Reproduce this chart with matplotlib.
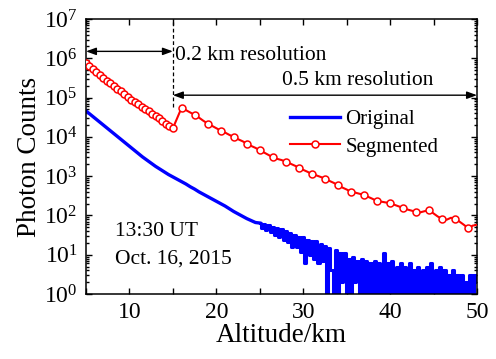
import numpy as np
import matplotlib
matplotlib.use("Agg")
import matplotlib.pyplot as plt
from matplotlib.ticker import MultipleLocator, LogLocator, NullFormatter

plt.rcParams['font.family'] = ['Liberation Serif', 'DejaVu Serif']
plt.rcParams['mathtext.fontset'] = 'custom'
plt.rcParams['mathtext.rm'] = 'Liberation Serif'

# Segmented profile, 0.2 km bins from 5 to 15 km (log10 counts)
seg_fine_log = [5.88, 5.84, 5.80, 5.76, 5.72, 5.69, 5.66,
                5.62, 5.58, 5.55, 5.51, 5.47, 5.43, 5.40, 5.36,
                5.33, 5.29, 5.26, 5.23, 5.19, 5.16, 5.12, 5.09, 5.05,
                5.02, 4.99, 4.95, 4.92, 4.89, 4.86,
                4.83, 4.80, 4.77, 4.74, 4.71, 4.68, 4.65, 4.62, 4.59, 4.56,
                4.53, 4.50, 4.47, 4.44, 4.41, 4.38, 4.34, 4.31, 4.28, 4.25, 4.22]

# Segmented profile, 0.5 km bins from 16 to 50 km (log10 counts)
seg_coarse_log = [4.74, 4.68, 4.62, 4.56, 4.49, 4.41, 4.34, 4.28, 4.22, 4.16,
                  4.11, 4.05, 4.00, 3.94, 3.89, 3.83, 3.77, 3.72, 3.66, 3.60,
                  3.54, 3.48, 3.44, 3.41, 3.37, 3.32, 3.27, 3.22, 3.16, 3.11,
                  3.05, 3.02, 2.98, 2.94, 2.88, 2.83, 2.77, 2.71, 2.66, 2.60,
                  2.58, 2.55, 2.53, 2.47, 2.42, 2.36, 2.35, 2.33, 2.32, 2.27,
                  2.23, 2.19, 2.15, 2.12, 2.09, 2.08, 2.11, 2.13, 2.05, 1.97,
                  1.92, 1.89, 1.94, 1.92, 1.84, 1.76, 1.67, 1.74, 1.76]

# Original profile, smooth part 5 - 24.5 km every 0.5 km (log10 counts)
orig_smooth_log = [4.66, 4.57, 4.48, 4.39, 4.30, 4.21, 4.12, 4.03, 3.94, 3.85,
                   3.76, 3.67, 3.58, 3.49, 3.41, 3.33, 3.25, 3.18, 3.11, 3.04,
                   2.98, 2.92, 2.86, 2.80, 2.73, 2.67, 2.60, 2.54, 2.48, 2.42,
                   2.36, 2.30, 2.24, 2.17, 2.10, 2.04, 1.98, 1.92, 1.87, 1.82]

# Original profile, noisy part 25 - 50 km every 0.25 km (counts)
orig_tail = [64, 48, 60, 42, 56, 38, 52, 32, 48, 28,
             44, 24, 40, 21, 36, 16, 32, 16, 29, 12,
             28, 6, 24, 10, 22, 8, 23, 6, 19, 7,
             17, 0, 15, 4, 0, 13, 0, 11, 2, 11,
             0, 8, 0, 9, 2, 7, 0, 8, 0, 7,
             1, 6, 0, 7, 0, 6, 0, 11, 0, 6,
             0, 7, 0, 5, 1, 6, 0, 5, 0, 6,
             0, 4, 0, 5, 0, 4, 0, 5, 0, 6,
             0, 4, 0, 5, 0, 4, 0, 3, 0, 4,
             0, 3, 0, 3, 0, 2, 0, 3, 0, 3, 2]

alt_fine = np.linspace(5, 15, len(seg_fine_log))
alt_coarse = np.linspace(16, 50, len(seg_coarse_log))
alt_smooth = np.linspace(5, 24.5, len(orig_smooth_log))
alt_tail = np.linspace(25, 50, len(orig_tail))

seg_alt = np.concatenate([alt_fine, alt_coarse])
seg_counts = 10 ** np.array(seg_fine_log + seg_coarse_log)
tail = np.array(orig_tail, dtype=float)
tail[tail <= 0] = 0.5  # zero counts drawn below the 10^0 floor
smooth = 10 ** np.array(orig_smooth_log)

marks = list(range(0, len(seg_fine_log), 2)) + \
    [len(seg_fine_log) + i for i in range(0, len(seg_coarse_log), 3)]

fig = plt.figure(figsize=(4.96, 3.59), dpi=100)
ax = fig.add_axes([86 / 496, 65 / 359, 391 / 496, 275 / 359])

blue = '#0000ff'
ax.plot(np.append(alt_smooth, alt_tail[0]), np.append(smooth, tail[0]),
        color=blue, lw=2.4, label='Original', zorder=2)
ax.plot(alt_tail, tail, color=blue, lw=2.2, drawstyle='steps-mid', zorder=2)
ax.plot(seg_alt, seg_counts, color='#ff0000', lw=1.5, marker='o', ms=5,
        mfc='white', mec='#ff0000', mew=1.1, markevery=marks,
        label='Segmented', zorder=3)

ax.set_yscale('log', nonpositive='clip')
ax.set_xlim(5, 50)
ax.set_ylim(1, 1e7)

ax.xaxis.set_major_locator(MultipleLocator(10))
ax.xaxis.set_minor_locator(MultipleLocator(5))
ax.yaxis.set_major_locator(LogLocator(base=10, numticks=10))
ax.yaxis.set_minor_locator(LogLocator(base=10, subs=np.arange(2, 10), numticks=10))
ax.yaxis.set_minor_formatter(NullFormatter())
ax.tick_params(which='both', direction='in', top=True, right=True, labelsize=17, width=1.0)
ax.tick_params(which='major', length=4.5, pad=6)
ax.tick_params(axis='x', which='minor', length=4.5)
ax.tick_params(axis='y', which='minor', length=2.5)
for s in ax.spines.values():
    s.set_linewidth(1.1)

ax.set_xlabel('Altitude/km', fontsize=19.5, labelpad=0)
ax.set_ylabel('Photon Counts', fontsize=19.5, labelpad=1)

# resolution annotations
boundary = 15
ax.plot([boundary, boundary], [5.7e4, 1e7], color='black', ls='--', lw=0.9, dashes=(3, 2))
arrow = dict(arrowstyle='<|-|>,head_length=0.6,head_width=0.22', color='black',
             lw=1.0, shrinkA=0, shrinkB=0)
ax.annotate('', xy=(5, 1.5e6), xytext=(boundary, 1.5e6), arrowprops=arrow)
ax.annotate('', xy=(boundary, 1.15e5), xytext=(50, 1.15e5), arrowprops=arrow)
ax.text(15.3, 1.2e6, '0.2 km resolution', fontsize=15.5, va='center', ha='left')
ax.text(36.3, 2.8e5, '0.5 km resolution', fontsize=15.5, va='center', ha='center')

ax.text(0.074, 0.228, '13:30 UT', transform=ax.transAxes, fontsize=15.5, va='center')
ax.text(0.074, 0.126, 'Oct. 16, 2015', transform=ax.transAxes, fontsize=15.5, va='center')

ax.legend(loc='center left', bbox_to_anchor=((290 - 86) / 391, (294 - 133) / 275),
          frameon=False, fontsize=15, handlelength=2.4, handletextpad=0.25,
          borderpad=0, borderaxespad=0, labelspacing=0.4, numpoints=1)

fig.savefig('out.png', dpi=100)
